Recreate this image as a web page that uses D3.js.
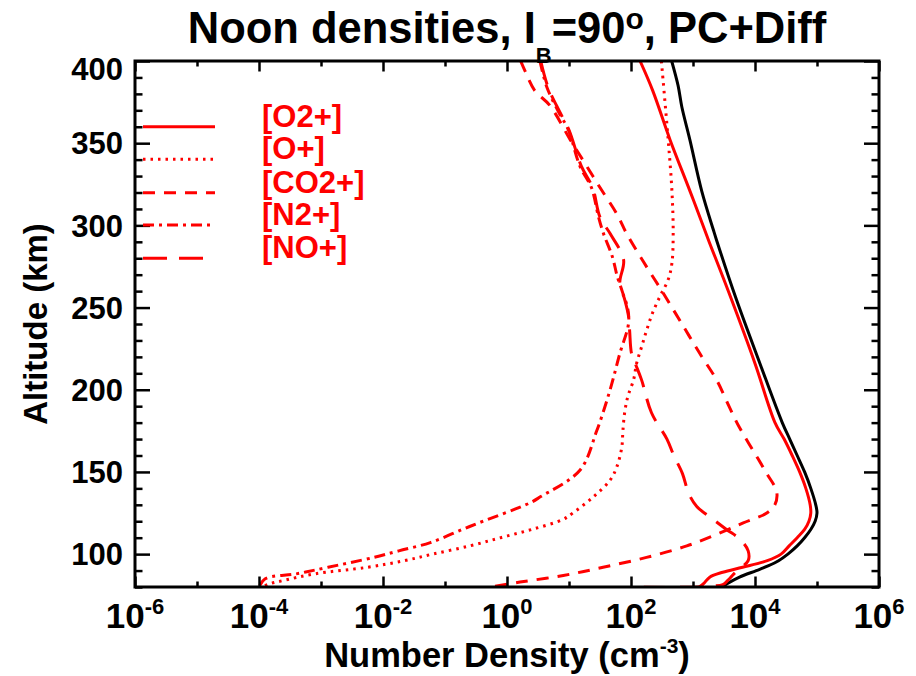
<!DOCTYPE html>
<html>
<head>
<meta charset="utf-8">
<script src="https://cdn.jsdelivr.net/npm/d3@7"></script>
<style>
  html, body { margin: 0; padding: 0; background: #fff; }
  svg { display: block; font-family: "Liberation Sans", Arial, sans-serif; }
</style>
</head>
<body>
<svg id="chart" width="916" height="676"></svg>
<script>
// ---------------- data (altitude km, number density cm^-3) ----------------
const altTotal = [400, 385, 372, 352, 321, 297, 291, 257, 216, 180, 170, 160, 150, 140, 130, 125, 120, 115, 110, 105, 100, 96, 93, 90, 86, 82, 80];
const denTotal = [453, 575, 661, 891, 1380, 2140, 2400, 4790, 12000, 27500, 36300, 47900, 63100, 79400, 95500, 100000, 93300, 79400, 63100, 47900, 33900, 24000, 16600, 10500, 5620, 3550, 2950];

const altO2p = [400, 382, 352, 321, 297, 291, 257, 216, 180, 170, 160, 150, 140, 130, 125, 120, 115, 110, 105, 100, 96, 92, 89, 86, 82, 80];
const denO2p = [140, 224, 427, 891, 1550, 1780, 3980, 10000, 21000, 29500, 39800, 52500, 66100, 77600, 79400, 74100, 63100, 47900, 35500, 26300, 15800, 6310, 3020, 1860, 1480, 1260];

const altOp = [400, 352, 321, 295, 277, 267, 257, 247, 236, 226, 216, 206, 196, 186, 175, 165, 153, 145, 135, 125, 121, 115, 110, 105, 100, 96, 92, 88, 84, 82, 80];
const denOp = [309, 398, 457, 479, 457, 398, 295, 224, 178, 148, 123, 110, 89, 79, 74, 71, 59, 46, 25, 11.5, 7.9, 2.5, 0.79, 0.25, 0.063, 0.022, 0.0056, 0.00079, 0.00025, 0.00015, 0.00011];

const altCO2p = [400, 394, 382, 373, 352, 336, 323, 307, 295, 278, 260, 242, 222, 206, 190, 177, 163, 149, 138, 130, 125, 119, 112, 105, 98, 92, 87, 83, 80];
const denCO2p = [1.66, 1.95, 2.8, 4.9, 10.5, 19.3, 31.6, 59, 85, 158, 316, 617, 1290, 2400, 3800, 5620, 9330, 15500, 22400, 20900, 15500, 6460, 2400, 794, 178, 35.5, 8.1, 1.62, 0.54];

const altN2p = [400, 384, 369, 358, 336, 323, 305, 295, 281, 269, 260, 249, 240, 222, 200, 175, 151, 135, 131, 119, 115, 107, 102, 98, 92, 88, 85, 80];
const denN2p = [3.4, 4.4, 6.8, 9.8, 15, 23, 30, 36, 50, 60, 72, 89, 91, 66, 46, 28, 15, 3.5, 2.3, 0.35, 0.19, 0.058, 0.018, 0.0071, 0.0013, 0.0004, 0.000126, 0.0001];

const altNOp = [400, 384, 369, 358, 336, 323, 305, 295, 279, 265, 255, 245, 236, 222, 216, 206, 186, 170, 160, 149, 137, 129, 121, 115, 109, 102, 96, 92, 88, 84, 81.5, 80];
const denNOp = [3.5, 4.6, 7.1, 10, 15.8, 24, 31.6, 46, 76, 66, 79, 91, 95, 102, 117, 148, 214, 380, 490, 676, 851, 1150, 2140, 3470, 5750, 7760, 7760, 6030, 4570, 3630, 3020, 100];

const xTickExps = [-6, -5, -4, -3, -2, -1, 0, 1, 2, 3, 4, 5, 6];
const xLabelExps = [-6, -4, -2, 0, 2, 4, 6];
const yTickVals = d3.range(80, 401, 10);
const yLabelVals = [100, 150, 200, 250, 300, 350, 400];

const legendNames = ["[O2+]", "[O+]", "[CO2+]", "[N2+]", "[NO+]"];

// ---------------- layout ----------------
const svg = d3.select("#chart");
const L = 135, R = 879, T = 61, B = 587;
const x = d3.scaleLog().domain([1e-6, 1e6]).range([L, R]);
const y = d3.scaleLinear().domain([80, 400]).range([B, T]);

const series = [
  { alt: altTotal, den: denTotal, color: "#000", dash: null },
  { alt: altO2p, den: denO2p, color: "#ff0000", dash: null },
  { alt: altOp, den: denOp, color: "#ff0000", dash: "2.5,5" },
  { alt: altCO2p, den: denCO2p, color: "#ff0000", dash: "12,9" },
  { alt: altN2p, den: denN2p, color: "#ff0000", dash: "11,5,3,5" },
  { alt: altNOp, den: denNOp, color: "#ff0000", dash: "24,12" }
];

svg.append("defs").append("clipPath").attr("id", "clip")
  .append("rect").attr("x", L).attr("y", T).attr("width", R - L).attr("height", B - T);

const line = d3.line()
  .x(d => x(d[1]))
  .y(d => y(d[0]))
  .curve(d3.curveCatmullRom.alpha(0.5));

const g = svg.append("g").attr("clip-path", "url(#clip)");
series.forEach(s => {
  const pts = s.alt.map((a, i) => [a, s.den[i]]);
  g.append("path")
    .attr("d", line(pts))
    .attr("fill", "none")
    .attr("stroke", s.color)
    .attr("stroke-width", 3)
    .attr("stroke-linejoin", "round")
    .attr("stroke-dasharray", s.dash);
});

// ---------------- axes (ticks inward on all four sides) ----------------
const xVals = xTickExps.map(e => Math.pow(10, e));
const isMajorX = v => Math.round(Math.log10(v)) % 2 === 0;
function xAxis(gen, yPos, sign) {
  const ax = svg.append("g").attr("transform", `translate(0,${yPos})`)
    .call(gen(x).tickValues(xVals).tickFormat(""));
  ax.select(".domain").remove();
  ax.selectAll(".tick line")
    .attr("y2", d => sign * (isMajorX(d) ? 10.5 : 5.5))
    .attr("stroke", "#000").attr("stroke-width", 2.5);
}
xAxis(d3.axisBottom, B, -1);
xAxis(d3.axisTop, T, 1);

const isMajorY = v => v % 50 === 0;
function yAxis(gen, xPos, sign) {
  const ax = svg.append("g").attr("transform", `translate(${xPos},0)`)
    .call(gen(y).tickValues(yTickVals).tickFormat(""));
  ax.select(".domain").remove();
  ax.selectAll(".tick line")
    .attr("x2", d => sign * (isMajorY(d) ? 15 : 7.5))
    .attr("stroke", "#000").attr("stroke-width", 2.5);
}
yAxis(d3.axisLeft, L, 1);
yAxis(d3.axisRight, R, -1);

svg.append("rect").attr("x", L).attr("y", T).attr("width", R - L).attr("height", B - T)
  .attr("fill", "none").attr("stroke", "#000").attr("stroke-width", 3);

// x tick labels
const xl = svg.append("g").attr("font-size", 35).attr("font-weight", "bold").attr("fill", "#000");
xLabelExps.forEach(e => {
  const t = xl.append("text").attr("x", x(Math.pow(10, e))).attr("y", 628).attr("text-anchor", "middle");
  t.append("tspan").text("10");
  t.append("tspan").attr("font-size", 22).attr("dy", -14).text(String(e));
});

// y tick labels
const yl = svg.append("g").attr("font-size", 31).attr("font-weight", "bold").attr("fill", "#000");
yLabelVals.forEach(v => {
  yl.append("text").attr("x", 123).attr("y", Math.max(y(v), T + 8)).attr("dy", "0.36em")
    .attr("text-anchor", "end").text(v);
});

// axis titles
const xt = svg.append("text").attr("x", (L + R) / 2).attr("y", 667).attr("text-anchor", "middle")
  .attr("font-size", 34.5).attr("font-weight", "bold");
xt.append("tspan").text("Number Density (cm");
xt.append("tspan").attr("font-size", 21).attr("dy", -14).text("-3");
xt.append("tspan").attr("dy", 14).text(")");

svg.append("text").attr("transform", `translate(47,${(T + B) / 2}) rotate(-90)`)
  .attr("text-anchor", "middle").attr("font-size", 33).attr("font-weight", "bold")
  .text("Altitude (km)");

// title
const tt = svg.append("text").attr("x", (L + R) / 2).attr("y", 43).attr("text-anchor", "middle")
  .attr("font-size", 43.5).attr("font-weight", "bold");
tt.append("tspan").text("Noon densities, I");
tt.append("tspan").attr("font-size", 22).attr("dy", 20).text("B");
tt.append("tspan").attr("dy", -20).text("=90");
tt.append("tspan").attr("font-size", 30).attr("dy", -14).text("o");
tt.append("tspan").attr("dy", 14).text(", PC+Diff");

// legend
const legY = [126.7, 159.3, 192.7, 225, 258.3];
const lg = svg.append("g");
legendNames.forEach((name, i) => {
  const s = series[i + 1];
  lg.append("line").attr("x1", 143).attr("x2", 215).attr("y1", legY[i]).attr("y2", legY[i])
    .attr("stroke", s.color).attr("stroke-width", 3).attr("stroke-dasharray", s.dash);
  lg.append("text").attr("x", 262).attr("y", legY[i]).attr("font-size", 31)
    .attr("font-weight", "bold").attr("fill", "#ff0000").text(name);
});
</script>
</body>
</html>
